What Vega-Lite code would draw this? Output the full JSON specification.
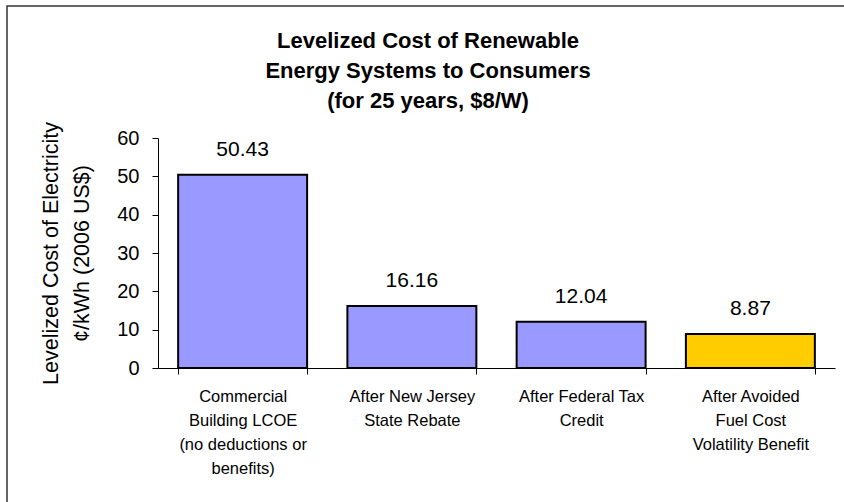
{
  "$schema": "https://vega.github.io/schema/vega-lite/v6.json",
  "autosize": {"type": "none"},
  "padding": {"left": 7, "top": 6, "right": 0, "bottom": 0},
  "width": 842,
  "height": 500,
  "background": "white",
  "config": {
    "font": "Liberation Sans",
    "view": {"stroke": "#333333", "strokeWidth": 1.5, "fill": "white"}
  },
  "title": {
    "text": ["Levelized Cost of Renewable", "Energy Systems to Consumers", "(for 25 years, $8/W)"],
    "font": "Liberation Sans",
    "fontSize": 22,
    "fontWeight": "bold",
    "color": "black",
    "lineHeight": 30,
    "anchor": "middle",
    "frame": "group",
    "offset": -107
  },
  "data": {
    "values": [
      {"category": "Commercial|Building LCOE|(no deductions or|benefits)", "value": 50.43, "kind": "cost"},
      {"category": "After New Jersey|State Rebate", "value": 16.16, "kind": "cost"},
      {"category": "After Federal Tax|Credit", "value": 12.04, "kind": "cost"},
      {"category": "After Avoided|Fuel Cost|Volatility Benefit", "value": 8.87, "kind": "benefit"}
    ]
  },
  "encoding": {
    "x": {
      "field": "category",
      "type": "nominal",
      "sort": null,
      "scale": {"range": [151, 828], "paddingInner": 0.238, "paddingOuter": 0.119},
      "axis": {
        "title": null,
        "orient": "bottom",
        "offset": -138,
        "labelAngle": 0,
        "labelExpr": "split(datum.label, '|')",
        "labelFontSize": 16.5,
        "labelLineHeight": 24,
        "labelPadding": 14,
        "labelColor": "black",
        "labelBaseline": "top",
        "tickBand": "extent",
        "tickSize": 6,
        "tickColor": "black",
        "domainColor": "black",
        "labelLimit": 300
      }
    },
    "y": {
      "field": "value",
      "type": "quantitative",
      "scale": {"domain": [0, 60], "range": [362, 132], "nice": false},
      "axis": {
        "orient": "left",
        "offset": -151,
        "values": [0, 10, 20, 30, 40, 50, 60],
        "grid": false,
        "tickSize": 6,
        "tickColor": "black",
        "domainColor": "black",
        "labelFontSize": 20,
        "labelColor": "black",
        "labelPadding": 13,
        "title": ["Levelized Cost of Electricity", "¢/kWh (2006 US$)"],
        "titleFontSize": 21.5,
        "titleFontWeight": "normal",
        "titleColor": "black",
        "titleLineHeight": 31,
        "titlePadding": 23
      }
    }
  },
  "layer": [
    {
      "mark": {"type": "bar", "stroke": "black", "strokeWidth": 2},
      "encoding": {
        "color": {
          "field": "kind",
          "type": "nominal",
          "scale": {"domain": ["cost", "benefit"], "range": ["#9999FF", "#FFCC00"]},
          "legend": null
        }
      }
    },
    {
      "mark": {"type": "text", "fontSize": 21, "color": "black", "baseline": "alphabetic", "dy": -19},
      "encoding": {
        "text": {"field": "value", "type": "quantitative", "format": ".2f"}
      }
    }
  ]
}
